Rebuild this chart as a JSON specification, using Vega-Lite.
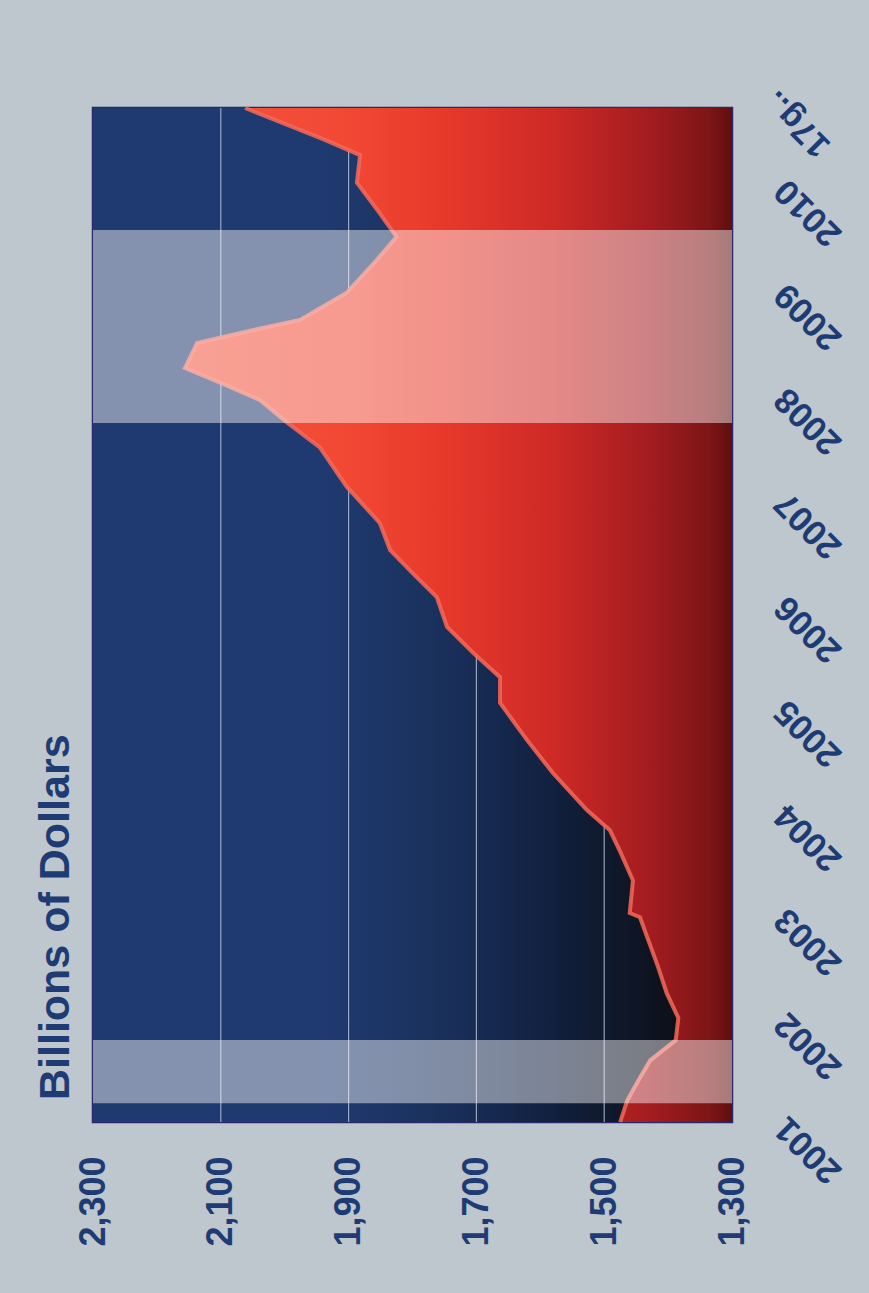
{
  "$schema": "https://vega.github.io/schema/vega-lite/v6.json",
  "width": 639,
  "height": 1014,
  "autosize": {"type": "none"},
  "padding": {"left": 93, "top": 108, "right": 137, "bottom": 171},
  "background": "#bdc7cd",
  "config": {
    "view": {"stroke": "#28286a", "strokeWidth": 2.5},
    "font": "Liberation Sans"
  },
  "title": {
    "text": "Billions of Dollars",
    "orient": "left",
    "anchor": "start",
    "frame": "group",
    "font": "Liberation Sans",
    "fontSize": 43,
    "fontWeight": "bold",
    "color": "#1e3c73",
    "offset": -3,
    "dx": 22
  },
  "datasets": {
    "frame": [{"a": 2300, "b": 1300, "s": "2001-01-01", "e": "2010-09-27"}],
    "grid": [{"g": 1500}, {"g": 1700}, {"g": 1900}, {"g": 2100}],
    "series": [
      {"t": "2001-01-01", "v": 1475},
      {"t": "2001-03-17", "v": 1464},
      {"t": "2001-05-25", "v": 1447},
      {"t": "2001-08-05", "v": 1428},
      {"t": "2001-10-15", "v": 1388},
      {"t": "2002-01-01", "v": 1384},
      {"t": "2002-03-28", "v": 1402},
      {"t": "2002-07-01", "v": 1416},
      {"t": "2002-10-01", "v": 1431},
      {"t": "2002-12-20", "v": 1444},
      {"t": "2003-01-04", "v": 1460},
      {"t": "2003-04-28", "v": 1455},
      {"t": "2003-08-07", "v": 1475},
      {"t": "2003-10-21", "v": 1491},
      {"t": "2003-12-31", "v": 1527},
      {"t": "2004-05-08", "v": 1580},
      {"t": "2004-09-02", "v": 1621},
      {"t": "2005-01-10", "v": 1663},
      {"t": "2005-04-10", "v": 1663},
      {"t": "2005-07-02", "v": 1704},
      {"t": "2005-10-03", "v": 1746},
      {"t": "2006-01-16", "v": 1762},
      {"t": "2006-04-01", "v": 1796},
      {"t": "2006-06-29", "v": 1835},
      {"t": "2006-10-02", "v": 1851},
      {"t": "2007-02-07", "v": 1903},
      {"t": "2007-06-25", "v": 1945},
      {"t": "2007-09-18", "v": 1995},
      {"t": "2007-12-08", "v": 2039},
      {"t": "2008-02-07", "v": 2101},
      {"t": "2008-03-29", "v": 2156},
      {"t": "2008-06-25", "v": 2137},
      {"t": "2008-08-07", "v": 2054},
      {"t": "2008-09-14", "v": 1976},
      {"t": "2008-12-18", "v": 1903},
      {"t": "2009-04-12", "v": 1856},
      {"t": "2009-07-02", "v": 1825},
      {"t": "2009-10-01", "v": 1854},
      {"t": "2010-01-08", "v": 1887},
      {"t": "2010-04-15", "v": 1882},
      {"t": "2010-06-10", "v": 1940},
      {"t": "2010-09-27", "v": 2062}
    ],
    "recessions": [
      {"s": "2001-03-08", "e": "2001-10-16"},
      {"s": "2007-09-18", "e": "2009-07-26"}
    ],
    "lastTick": [{"t": "2011-01-01", "label": "17g.."}]
  },
  "layer": [
    {
      "data": {"name": "frame"},
      "mark": {
        "type": "rect",
        "fill": {
          "gradient": "linear",
          "x1": 0, "y1": 0, "x2": 1, "y2": 0,
          "stops": [
            {"offset": 0, "color": "#1f3a70"},
            {"offset": 0.36, "color": "#1f3a70"},
            {"offset": 0.52, "color": "#1b325f"},
            {"offset": 0.61, "color": "#162a52"},
            {"offset": 0.73, "color": "#111f3c"},
            {"offset": 0.83, "color": "#0f1728"},
            {"offset": 0.92, "color": "#0c0f18"},
            {"offset": 1, "color": "#0b0d14"}
          ]
        }
      },
      "encoding": {
        "x": {
          "field": "a", "type": "quantitative",
          "scale": {"domain": [1300, 2300], "reverse": true, "zero": false, "nice": false},
          "axis": {
            "orient": "bottom",
            "values": [2300, 2100, 1900, 1700, 1500, 1300],
            "format": ",d",
            "labelAngle": 270,
            "labelAlign": "right",
            "labelBaseline": "middle",
            "labelFont": "Liberation Sans",
            "labelFontSize": 36,
            "labelFontWeight": "bold",
            "labelColor": "#1e3c73",
            "labelPadding": 34,
            "labelFlush": false,
            "labelOverlap": false,
            "ticks": false,
            "domain": false,
            "grid": false,
            "title": null
          }
        },
        "x2": {"field": "b"},
        "y": {
          "field": "s", "type": "temporal",
          "scale": {
            "type": "utc",
            "domain": [
              {"year": 2001, "month": 1, "date": 1, "utc": true},
              {"year": 2010, "month": 9, "date": 27, "utc": true}
            ],
            "nice": false
          },
          "axis": {
            "orient": "right",
            "values": [
              {"year": 2001, "month": 1, "date": 1, "utc": true},
              {"year": 2002, "month": 1, "date": 1, "utc": true},
              {"year": 2003, "month": 1, "date": 1, "utc": true},
              {"year": 2004, "month": 1, "date": 1, "utc": true},
              {"year": 2005, "month": 1, "date": 1, "utc": true},
              {"year": 2006, "month": 1, "date": 1, "utc": true},
              {"year": 2007, "month": 1, "date": 1, "utc": true},
              {"year": 2008, "month": 1, "date": 1, "utc": true},
              {"year": 2009, "month": 1, "date": 1, "utc": true},
              {"year": 2010, "month": 1, "date": 1, "utc": true}
            ],
            "format": "%Y",
            "labelAngle": 225,
            "labelAlign": "right",
            "labelBaseline": "middle",
            "labelFont": "Liberation Sans",
            "labelFontSize": 35,
            "labelFontWeight": "bold",
            "labelColor": "#1e3c73",
            "labelPadding": 48,
            "labelFlush": false,
            "labelOverlap": false,
            "ticks": false,
            "domain": false,
            "grid": false,
            "title": null
          }
        },
        "y2": {"field": "e"}
      }
    },
    {
      "data": {"name": "grid"},
      "mark": {"type": "rule", "color": "#aebbd0", "strokeWidth": 1.2, "opacity": 0.85},
      "encoding": {
        "x": {
          "field": "g", "type": "quantitative",
          "scale": {"domain": [1300, 2300], "reverse": true, "zero": false, "nice": false},
          "axis": {"title": null}
        }
      }
    },
    {
      "data": {"name": "series"},
      "mark": {
        "type": "area",
        "orient": "horizontal",
        "fill": {
          "gradient": "linear",
          "x1": 0, "y1": 0, "x2": 1, "y2": 0,
          "stops": [
            {"offset": 0, "color": "#f4533d"},
            {"offset": 0.3, "color": "#f14834"},
            {"offset": 0.45, "color": "#e93b2c"},
            {"offset": 0.67, "color": "#cf2a26"},
            {"offset": 0.85, "color": "#a31c1f"},
            {"offset": 0.96, "color": "#7d1516"},
            {"offset": 1, "color": "#5e0e0e"}
          ]
        }
      },
      "encoding": {
        "y": {
          "field": "t", "type": "temporal",
          "scale": {
            "type": "utc",
            "domain": [
              {"year": 2001, "month": 1, "date": 1, "utc": true},
              {"year": 2010, "month": 9, "date": 27, "utc": true}
            ],
            "nice": false
          },
          "axis": {"title": null}
        },
        "x": {
          "field": "v", "type": "quantitative",
          "scale": {"domain": [1300, 2300], "reverse": true, "zero": false, "nice": false},
          "axis": {"title": null}
        },
        "x2": {"datum": 1300}
      }
    },
    {
      "data": {"name": "series"},
      "mark": {"type": "line", "orient": "horizontal", "color": "#f46a5b", "strokeWidth": 4, "opacity": 0.85},
      "encoding": {
        "y": {
          "field": "t", "type": "temporal",
          "scale": {
            "type": "utc",
            "domain": [
              {"year": 2001, "month": 1, "date": 1, "utc": true},
              {"year": 2010, "month": 9, "date": 27, "utc": true}
            ],
            "nice": false
          },
          "axis": {"title": null}
        },
        "x": {
          "field": "v", "type": "quantitative",
          "scale": {"domain": [1300, 2300], "reverse": true, "zero": false, "nice": false},
          "axis": {"title": null}
        },
        "order": {"field": "t", "type": "temporal"}
      }
    },
    {
      "data": {"name": "recessions"},
      "mark": {"type": "rect", "color": "#ffffff", "opacity": 0.45},
      "encoding": {
        "y": {
          "field": "s", "type": "temporal",
          "scale": {
            "type": "utc",
            "domain": [
              {"year": 2001, "month": 1, "date": 1, "utc": true},
              {"year": 2010, "month": 9, "date": 27, "utc": true}
            ],
            "nice": false
          },
          "axis": {"title": null}
        },
        "y2": {"field": "e"}
      }
    },
    {
      "data": {"name": "lastTick"},
      "mark": {
        "type": "text",
        "angle": 225,
        "align": "right",
        "baseline": "middle",
        "dx": -38,
        "dy": 16,
        "font": "Liberation Sans",
        "fontSize": 34,
        "fontWeight": "bold",
        "color": "#1e3c73"
      },
      "encoding": {
        "text": {"field": "label"},
        "x": {
          "datum": 1300,
          "scale": {"domain": [1300, 2300], "reverse": true, "zero": false, "nice": false},
          "axis": {"title": null}
        },
        "y": {
          "field": "t", "type": "temporal",
          "scale": {
            "type": "utc",
            "domain": [
              {"year": 2001, "month": 1, "date": 1, "utc": true},
              {"year": 2010, "month": 9, "date": 27, "utc": true}
            ],
            "nice": false
          },
          "axis": {"title": null}
        }
      }
    }
  ]
}
